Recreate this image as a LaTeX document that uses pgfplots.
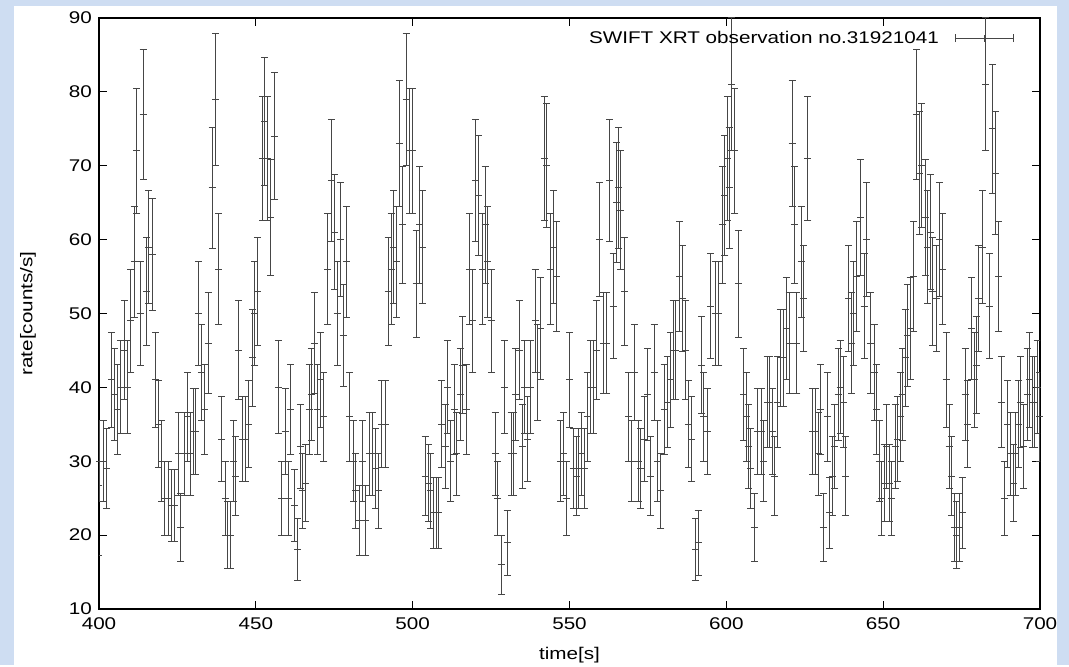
\documentclass[border=0pt]{standalone}
\usepackage{fontspec}
\setmainfont{Liberation Sans}[FakeStretch=1.22]
\usepackage{pgfplots}
\usepackage{pgfplotstable}
\pgfplotsset{compat=1.18}
\definecolor{bgblue}{RGB}{206,221,242}
\definecolor{barc}{RGB}{70,70,70}
\pgfplotstableread{
t v e
399.8 22 4.7
400.3 30 5.5
401.4 30 5.5
402.4 29 5.4
404.0 41 6.4
404.9 39 6.2
405.8 37 6.1
407.0 40 6.3
408.1 45 6.7
409.0 40 6.3
410.2 49 7.0
411.3 57 7.5
412.0 72 8.5
413.1 50 7.1
414.1 77 8.8
415.2 53 7.3
415.9 59 7.7
417.0 58 7.6
418.1 41 6.4
419.0 35 5.9
420.0 30 5.5
421.0 25 5.0
422.1 25 5.0
423.0 24 4.9
424.0 24 4.9
425.3 31 5.6
426.1 21 4.6
427.2 31 5.6
428.3 36 6.0
429.3 31 5.6
430.0 34 5.8
430.8 34 5.8
431.7 50 7.1
432.6 42 6.5
433.5 37 6.1
434.8 46 6.8
436.1 67 8.2
437.2 79 8.9
438.1 56 7.5
439.1 33 5.7
440.2 25 5.0
441.0 20 4.5
441.9 20 4.5
442.8 30 5.5
443.6 28 5.3
444.6 45 6.7
445.7 33 5.7
446.6 33 5.7
447.6 35 5.9
448.9 44 6.6
449.7 50 7.1
450.5 53 7.3
452.1 71 8.4
452.9 76 8.7
453.7 71 8.4
454.7 63 7.9
456.1 74 8.6
457.2 40 6.3
458.2 25 5.0
459.3 34 5.8
460.3 25 5.0
461.2 37 6.1
462.4 24 4.9
463.3 18 4.2
464.2 32 5.7
464.9 26 5.1
465.9 27 5.2
467.0 37 6.1
467.7 39 6.2
468.8 46 6.8
469.5 37 6.1
470.6 41 6.4
471.7 36 6.0
473.0 56 7.5
474.1 68 8.2
475.2 61 7.8
475.9 50 7.1
477.0 60 7.7
477.8 47 6.9
478.9 57 7.5
480.0 36 6.0
481.0 30 5.5
481.9 26 5.1
482.9 22 4.7
484.0 30 5.5
485.1 22 4.7
486.1 31 5.6
487.2 31 5.6
488.2 29 5.4
489.0 26 5.1
490.1 35 5.9
491.3 35 5.9
492.2 53 7.3
493.1 56 7.5
493.9 59 7.7
494.8 57 7.5
495.8 73 8.5
496.9 62 7.9
497.9 79 8.9
499.0 72 8.5
499.8 72 8.5
501.1 54 7.3
502.2 62 7.9
503.0 59 7.7
504.0 28 5.3
505.1 27 5.2
505.8 26 5.1
506.5 23 4.8
507.5 23 4.8
508.3 23 4.8
509.3 35 5.9
510.4 32 5.7
511.1 40 6.3
512.2 30 5.5
513.3 37 6.1
514.1 31 5.6
515.2 39 6.2
516.0 43 6.6
517.1 37 6.1
518.1 56 7.5
519.2 49 7.0
520.0 68 8.2
521.0 66 8.1
522.3 56 7.5
523.1 62 7.9
524.0 57 7.5
525.0 49 7.0
526.3 31 5.6
527.2 25 5.0
528.2 16 4.0
529.2 40 6.3
530.1 19 4.4
531.4 31 5.6
532.2 31 5.6
532.9 39 6.2
534.0 45 6.7
535.1 32 5.7
535.8 40 6.3
536.7 33 5.7
537.7 40 6.3
539.0 49 7.0
539.9 42 6.5
540.7 48 6.9
542.0 71 8.4
542.8 70 8.4
544.1 56 7.5
544.9 59 7.7
545.7 55 7.4
547.1 30 5.5
548.1 31 5.6
548.9 25 5.0
550.0 41 6.4
551.2 29 5.4
552.2 28 5.3
553.0 29 5.4
553.8 31 5.6
554.7 29 5.4
555.7 36 6.0
556.8 40 6.3
557.5 40 6.3
558.6 45 6.7
559.7 60 7.7
560.7 46 6.8
561.8 46 6.8
562.8 68 8.2
563.9 51 7.1
565.0 65 8.1
565.7 67 8.2
566.4 64 8.0
567.6 53 7.3
568.9 36 6.0
569.8 30 5.5
570.8 42 6.5
571.9 30 5.5
572.7 29 5.4
574.0 33 5.7
574.9 39 6.2
575.9 28 5.3
577.0 42 6.5
578.0 30 5.5
579.1 26 5.1
580.2 37 6.1
581.2 38 6.2
582.2 41 6.4
583.0 45 6.7
583.9 45 6.7
585.1 55 7.4
586.0 52 7.2
586.9 45 6.7
587.9 35 5.9
588.9 33 5.7
590.2 18 4.2
591.0 19 4.4
592.1 43 6.6
592.8 36 6.0
593.9 34 5.8
595.0 51 7.1
596.4 50 7.1
597.6 50 7.1
598.7 62 7.9
599.5 66 8.1
600.3 71 8.4
600.9 67 8.2
601.7 81 9.0
602.7 72 8.5
603.8 54 7.3
605.6 39 6.2
606.3 36 6.0
607.0 32 5.7
607.7 29 5.4
608.9 21 4.6
609.9 34 5.8
611.2 34 5.8
611.9 30 5.5
613.0 38 6.2
613.8 38 6.2
614.7 34 5.8
615.4 28 5.3
616.2 38 6.2
617.2 44 6.6
618.3 44 6.6
619.1 48 6.9
620.0 46 6.8
621.0 73 8.5
621.8 62 7.9
622.5 46 6.8
623.9 57 7.5
624.7 52 7.2
626.0 71 8.4
627.6 34 5.8
628.5 34 5.8
629.4 31 5.6
630.1 37 6.1
630.9 21 4.6
632.1 36 6.0
632.9 23 4.8
633.8 28 5.3
634.5 32 5.7
635.6 39 6.2
636.3 40 6.3
637.2 38 6.2
638.0 28 5.3
639.0 52 7.2
639.8 46 6.8
640.5 50 7.1
641.6 55 7.4
642.9 63 7.9
643.9 51 7.1
644.8 60 7.7
646.1 46 6.8
647.1 42 6.5
648.0 37 6.1
648.8 30 5.5
649.6 25 5.0
650.3 27 5.2
651.2 32 5.7
652.0 27 5.2
652.7 25 5.0
653.8 32 5.7
654.6 33 5.7
655.4 36 6.0
656.3 39 6.2
657.0 44 6.6
657.7 47 6.9
658.6 48 6.9
659.7 55 7.4
660.7 77 8.8
661.6 69 8.3
662.3 70 8.4
663.4 63 7.9
664.1 59 7.7
665.0 61 7.8
665.8 53 7.3
666.9 52 7.2
667.9 60 7.7
669.0 56 7.5
670.1 41 6.4
671.0 32 5.7
671.9 28 5.3
672.7 21 4.6
673.5 20 4.5
674.4 21 4.6
675.2 23 4.8
676.1 39 6.2
676.9 35 5.9
678.2 48 6.9
679.0 41 6.4
679.6 43 6.6
680.3 52 7.2
681.7 59 7.7
682.7 81 9.0
683.8 51 7.1
684.9 75 8.7
685.8 69 8.3
686.8 55 7.4
687.7 38 6.2
688.6 25 5.0
689.7 35 5.9
690.7 31 5.6
691.5 27 5.2
692.3 31 5.6
693.1 35 5.9
693.9 38 6.2
694.8 32 5.7
695.9 39 6.2
696.6 41 6.4
697.5 38 6.2
698.3 38 6.2
699.1 40 6.3
699.9 36 6.0
}\datatable
\begin{document}
\begin{tikzpicture}
\fill[bgblue] (0bp,0bp) rectangle (1069bp,665bp);
\fill[white] (14bp,0bp) rectangle (1057bp,659bp);
\begin{axis}[
  at={(99bp,56bp)}, anchor=south west,
  scale only axis, width=941bp, height=591bp,
  xmin=400, xmax=700, ymin=10, ymax=90,
  xtick={400,450,...,700}, ytick={10,20,...,90},
  tick align=inside, xtick pos=both, ytick pos=both,
  major tick length=8bp,
  axis line style={line width=1.3bp},
  every tick/.style={black, line width=1bp},
  /pgf/number format/assume math mode=true,
  /pgf/number format/1000 sep={},
  tick label style={font=\fontsize{17}{20}\selectfont},
  xticklabel style={yshift=-5bp},
  yticklabel style={xshift=-3.5bp},
  xlabel={time[s]}, ylabel={rate[counts/s]},
  every axis x label/.style={at={(axis description cs:0.5,0)}, yshift=-46bp, anchor=center, font=\fontsize{17}{20}\selectfont},
  every axis y label/.style={at={(axis description cs:0,0.5)}, xshift=-71bp, anchor=center, rotate=90, font=\fontsize{17}{20}\selectfont},
  legend plot pos=right,
  legend style={draw=none, fill=none, at={(rel axis cs:0.9725,0.966)}, anchor=east, font=\fontsize{17}{20}\selectfont, column sep=14bp, inner sep=0pt},
  legend image code/.code={\draw[barc, line width=1bp] (0bp,0bp)--(58bp,0bp) (0bp,-4bp)--(0bp,4bp) (58bp,-4bp)--(58bp,4bp) (29bp,-3.5bp)--(29bp,3.5bp);},
]
\addplot[barc, line width=1bp, only marks, mark=+, mark size=3.5bp,
  error bars/.cd, y dir=both, y explicit,
  error mark=|,
  error bar style={line width=1bp, barc},
  error mark options={mark size=3.5bp, line width=1bp, barc}]
  table[x=t, y=v, y error=e] {\datatable};
\addlegendentry{SWIFT XRT observation no.31921041}
\end{axis}
\end{tikzpicture}
\end{document}
